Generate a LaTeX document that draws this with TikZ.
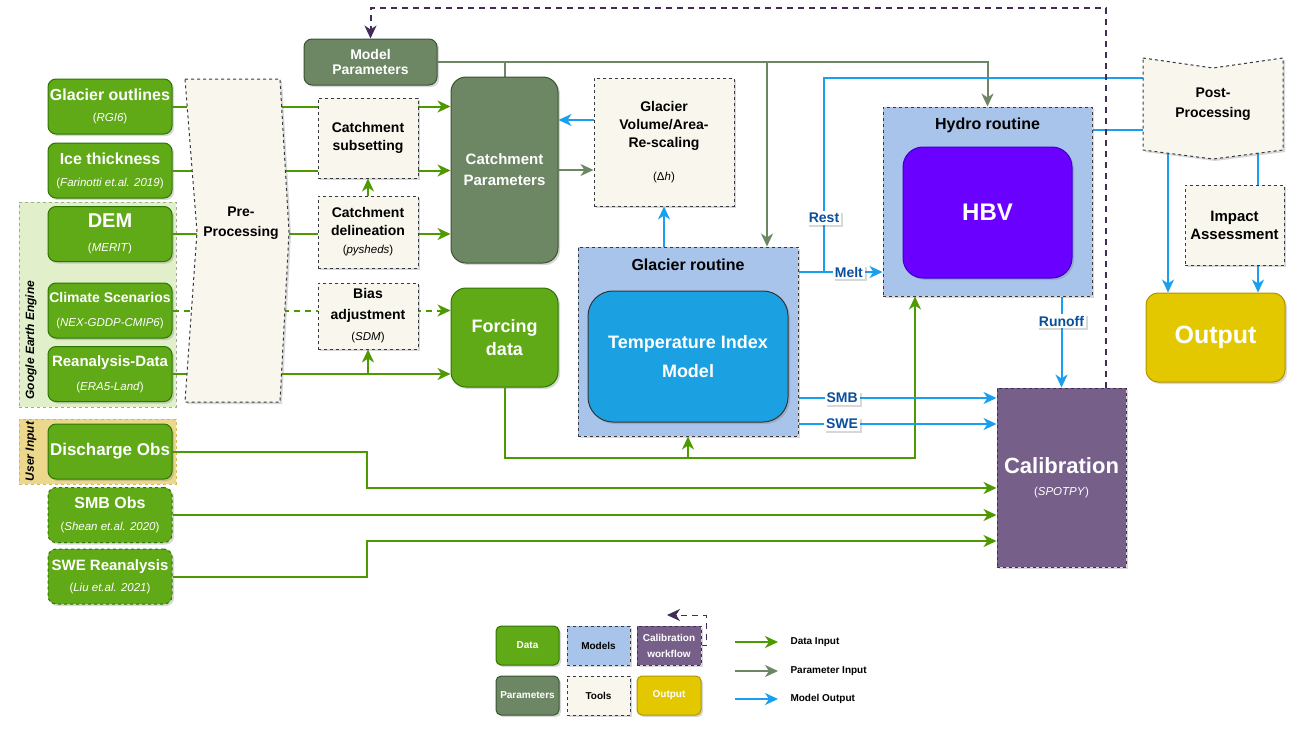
\documentclass[tikz,border=0pt]{standalone}
\usepackage{fontspec}
\setmainfont{Liberation Sans}
\usetikzlibrary{arrows.meta,shadows}
\definecolor{dgreen}{HTML}{60A917}
\definecolor{dgreenD}{HTML}{2D7600}
\definecolor{lgreen}{HTML}{4D9900}
\definecolor{parF}{HTML}{6D8764}
\definecolor{parD}{HTML}{3A5431}
\definecolor{toolF}{HTML}{F9F7ED}
\definecolor{toolD}{HTML}{36393D}
\definecolor{modF}{HTML}{A9C4EB}
\definecolor{calF}{HTML}{76608A}
\definecolor{calD}{HTML}{432D57}
\definecolor{outF}{HTML}{E3C800}
\definecolor{outD}{HTML}{B09500}
\definecolor{timF}{HTML}{1BA1E2}
\definecolor{hbvF}{HTML}{6A00FF}
\definecolor{hbvD}{HTML}{3700CC}
\definecolor{blueL}{HTML}{1A9FF0}
\definecolor{labB}{HTML}{0B4F9C}
\definecolor{geeF}{HTML}{E1EFCB}
\definecolor{geeD}{HTML}{9DAE8C}
\definecolor{usrF}{HTML}{ECD88C}
\definecolor{usrD}{HTML}{D6B656}
\newcommand{\ft}[2]{\fontsize{#1}{#2}\selectfont\bfseries}
\newcommand{\src}[1]{{\fontsize{11.5}{13}\selectfont\mdseries(\textit{#1})}}
\pgfdeclarelayer{back}
\pgfdeclarelayer{lines}
\pgfsetlayers{back,lines,main}
\begin{document}
\begin{tikzpicture}[x=1pt,y=-1pt,>={Stealth[length=13pt,width=12pt,inset=4pt]},
	shd/.style={drop shadow={shadow xshift=2pt,shadow yshift=-2pt,opacity=.25,fill=black!60}},
	box/.style={align=center,inner sep=1pt,line width=1pt,shd},
	data/.style={box,rounded corners=8pt,fill=dgreen,draw=dgreenD,text=white,minimum width=124pt,minimum height=55pt},
	tool/.style={box,fill=toolF,draw=toolD,dashed},
	param/.style={box,rounded corners=8pt,fill=parF,draw=parD,text=white},
	model/.style={box,fill=modF,draw=toolD,dashed},
	din/.style={->,draw=lgreen,line width=2pt},
	dpar/.style={->,draw=parF,line width=2pt},
	dout/.style={->,draw=blueL,line width=2pt},
	dcal/.style={->,draw=calD,line width=2pt,dash pattern=on 6pt off 5pt},
	lab/.style={fill=white,text=labB,font=\ft{14}{16},inner sep=2pt,shd},
	legtxt/.style={anchor=west,font=\ft{10}{12}},
	]
	\useasboundingbox (0,0) rectangle (1307,734);
	% groups
	\begin{pgfonlayer}{back}
		\fill[white] (0,0) rectangle (1307,734);
		\node[fill=geeF,draw=geeD,dashed,minimum width=157pt,minimum height=205pt] (gee) at (97.5,304.5) {};
		\node[rotate=90,font=\ft{12}{14}\itshape] (geelbl) at (31,340) {Google Earth Engine};
		\node[fill=usrF,draw=usrD,dashed,minimum width=157pt,minimum height=65pt] (usr) at (97.5,451.5) {};
		\node[rotate=90,font=\ft{12}{14}\itshape] (usrlbl) at (31,451.5) {User Input};
	\end{pgfonlayer}
	% data column
	\path
	+(110,106.5) node[data,font=\ft{16}{21}] (glac) {Glacier outlines\\\src{RGI6}}
	+(110,170.5) node[data,font=\ft{16}{22}] (ice) {Ice thickness\\\src{Farinotti et.al. 2019}}
	+(110,234) node[data,font=\ft{20}{24}] (dem) {DEM\\\src{MERIT}}
	+(110,310.5) node[data,font=\ft{14}{24}] (clim) {Climate Scenarios\\\src{NEX-GDDP-CMIP6}}
	+(110,374) node[data,font=\ft{15}{24}] (rean) {Reanalysis-Data\\\src{ERA5-Land}}
	+(110,451.5) node[data,font=\ft{17}{20}] (disc) {Discharge Obs}
	+(110,515) node[data,dashed,font=\ft{16}{22}] (smbo) {SMB Obs\\\src{Shean et.al. 2020}}
	+(110,576.5) node[data,dashed,font=\ft{15}{21}] (swer) {SWE Reanalysis\\\src{Liu et.al. 2021}}
	;
	% pre-processing
	\path[draw=toolD,fill=toolF,dashed,line width=1pt,shd] (185,79) -- (280,79) -- (289,232) -- (280,402) -- (185,402) -- (197,232) -- cycle;
	\node[align=center,font=\ft{14}{20},minimum width=95pt] (pre) at (241,223) {Pre-\\Processing};
	% tools and parameters
	\path
	+(370.5,62) node[param,minimum width=133pt,minimum height=46pt,font=\ft{14}{15}] (mpar) {Model\\Parameters}
	+(368,138) node[tool,minimum width=100pt,minimum height=80pt,font=\ft{14}{18}] (csub) {Catchment\\subsetting}
	+(368,232) node[tool,minimum width=100pt,minimum height=72pt,font=\ft{14}{18}] (cdel) {Catchment\\delineation\\\src{pysheds}}
	+(368,316) node[tool,minimum width=100pt,minimum height=66pt,font=\ft{14}{21}] (bias) {Bias\\adjustment\\\src{SDM}}
	+(504.5,170) node[param,rounded corners=15pt,minimum width=107pt,minimum height=186pt,font=\ft{15}{21}] (cpar) {Catchment\\Parameters}
	+(504.5,337.5) node[data,rounded corners=15pt,minimum width=107pt,minimum height=99pt,font=\ft{18}{23}] (forc) {Forcing\\data}
	+(664,142) node[tool,minimum width=140pt,minimum height=128pt,font=\ft{14}{18}] (gvol) {Glacier\\Volume/Area-\\Re-scaling\\[15pt]{\fontsize{11.5}{13}\selectfont\mdseries(Δ\textit{h})}}
	;
	% models
	\node[model,minimum width=220pt,minimum height=189pt] (grout) at (688,341.5) {};
	\node[font=\ft{16}{18}] (groutlbl) at (688,265) {Glacier routine};
	\node[box,rounded corners=25pt,fill=timF,draw=black!80,text=white,minimum width=200pt,minimum height=131pt,font=\ft{18}{29}] (tim) at (688,356.5) {Temperature Index\\Model};
	\node[model,minimum width=209pt,minimum height=189pt] (hydro) at (987.5,201.5) {};
	\node[font=\ft{16}{18}] (hydrolbl) at (987.5,125) {Hydro routine};
	\node[box,rounded corners=20pt,fill=hbvF,draw=hbvD,text=white,minimum width=169pt,minimum height=131pt,font=\ft{24}{28}] (hbv) at (987.5,212.5) {HBV};
	\node[box,fill=calF,draw=calD,dashed,text=white,minimum width=129pt,minimum height=179pt,font=\ft{22}{22}] (calib) at (1061.5,477.5) {Calibration\\{\fontsize{11.5}{13}\selectfont\mdseries(\textit{SPOTPY})}};
	% post-processing and output
	\path[draw=toolD,fill=toolF,dashed,line width=1pt,shd] (1143,58) -- (1213,68) -- (1283,58) -- (1283,150) -- (1213,159) -- (1143,150) -- cycle;
	\node[align=center,font=\ft{14}{20},minimum width=140pt,minimum height=92pt] (post) at (1213,104) {Post-\\Processing};
	\node[tool,minimum width=99pt,minimum height=80pt,font=\ft{15}{18}] (impact) at (1234.5,225) {Impact\\Assessment};
	\node[box,rounded corners=12pt,fill=outF,draw=outD,text=white,minimum width=139pt,minimum height=89pt,font=\ft{25}{28}] (outp) at (1215.5,337.5) {Output};
	% legend
	\path
	+(527.5,645.5) node[data,minimum width=63pt,minimum height=39pt,rounded corners=5pt,font=\ft{10}{12}] (ldat) {Data}
	+(598.5,645.5) node[model,minimum width=63pt,minimum height=39pt,font=\ft{10}{12}] (lmod) {Models}
	+(669,645.5) node[box,fill=calF,draw=calD,dashed,text=white,minimum width=64pt,minimum height=39pt,font=\ft{10}{16}] (lcal) {Calibration\\workflow}
	+(527.5,695.5) node[param,minimum width=63pt,minimum height=39pt,rounded corners=5pt,font=\ft{10}{12}] (lpar) {Parameters}
	+(598.5,695.5) node[tool,minimum width=63pt,minimum height=39pt,font=\ft{10}{12}] (ltool) {Tools}
	+(669,695.5) node[box,rounded corners=5pt,fill=outF,draw=outD,text=white,minimum width=64pt,minimum height=39pt,font=\ft{10}{12}] (lout) {Output}
	+(787,642) node[legtxt] (ldin) {Data Input}
	+(787,671) node[legtxt] (ldpar) {Parameter Input}
	+(787,699) node[legtxt] (ldout) {Model Output}
	;
	\coordinate (lloop) at (667,615);
	\coordinate (rest) at (824,272);
	\begin{pgfonlayer}{lines}
		% data inputs
		\draw[din] (glac.east) -- (glac.east -| cpar.west);
		\draw[din] (ice.east) -- (ice.east -| cpar.west);
		\draw[din] (dem.east) -- (dem.east -| cpar.west);
		\draw[din,dash pattern=on 6pt off 5pt] (clim.east) -- (clim.east -| forc.west);
		\draw[din] (rean.east) -- (rean.east -| forc.west);
		\draw[din] (bias.south |- rean.east) -- (bias.south);
		\draw[din] (cdel.north) -- (csub.south);
		\draw[din] (forc.south) |- (915,458) -- (hydro.south -| 915,0);
		\draw[din] (grout.south |- 0,458) -- (grout.south);
		\draw[din] (disc.east) -| (367,488) -- (calib.west |- 0,488);
		\draw[din] (smbo.east) -- (smbo.east -| calib.west);
		\draw[din] (swer.east) -| (367,541) -- (calib.west |- 0,541);
		% parameters
		\draw[dpar] (mpar.east) -| (hydro.north);
		\draw[dpar,-] (cpar.north |- mpar.east) -- (cpar.north);
		\draw[dpar] (767,62) -- (grout.north -| 767,0);
		\draw[dpar] (cpar.east) -- (cpar.east -| gvol.west);
		% model outputs
		\draw[dout] (gvol.west |- 0,120) -- (cpar.east |- 0,120);
		\draw[dout] (grout.north -| gvol.south) -- (gvol.south);
		\draw[dout] (grout.east |- 0,272) -- node[lab,pos=0.6] {Melt} (hydro.west |- 0,272);
		\draw[dout,-] (rest) -- node[lab,pos=0.28] {Rest} (824,78) -- (post.west |- 0,78);
		\draw[dout,-] (hydro.east |- 0,130) -- (post.west |- 0,130);
		\draw[dout] (post.center -| 1168,0) -- (outp.north -| 1168,0);
		\draw[dout,-] (post.center -| 1258,0) -- (impact.north -| 1258,0);
		\draw[dout] (impact.south -| 1258,0) -- (outp.north -| 1258,0);
		\draw[dout] (hydro.south -| calib.north) -- node[lab,pos=0.27] {Runoff} (calib.north);
		\draw[dout] (grout.east |- 0,398) -- node[lab,pos=0.22] {SMB} (calib.west |- 0,398);
		\draw[dout] (grout.east |- 0,424) -- node[lab,pos=0.22] {SWE} (calib.west |- 0,424);
		% calibration loop
		\draw[dcal] (calib.north -| 1106,0) |- (mpar.north |- 0,8) -- (mpar.north);
		% legend arrows
		\draw[dcal,line width=1pt] (lcal.east) -- ++(5,0) |- (lloop);
		\draw[din] ([xshift=-52pt]ldin.west) -- ([xshift=-9pt]ldin.west);
		\draw[dpar] ([xshift=-52pt]ldpar.west) -- ([xshift=-9pt]ldpar.west);
		\draw[dout] ([xshift=-52pt]ldout.west) -- ([xshift=-9pt]ldout.west);
	\end{pgfonlayer}
\end{tikzpicture}
\end{document}
